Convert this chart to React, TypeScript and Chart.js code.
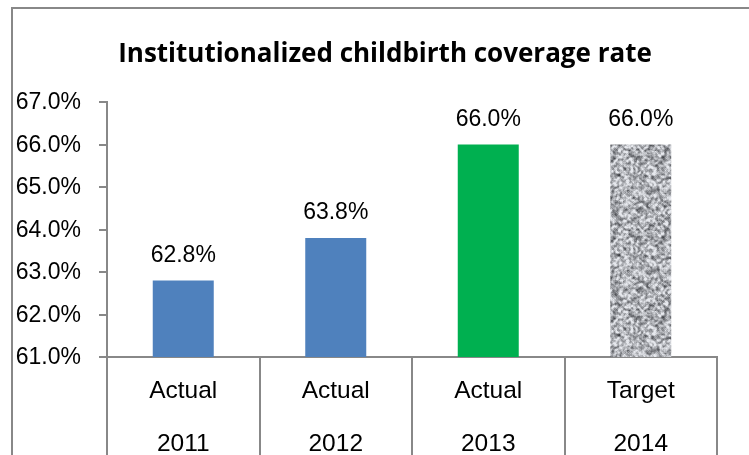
import React, { useEffect, useRef } from "react";
import { Chart, registerables } from "chart.js";

Chart.register(...registerables);

const TITLE = "Institutionalized childbirth coverage rate";
const kinds = ["Actual", "Actual", "Actual", "Target"];
const years = ["2011", "2012", "2013", "2014"];
const values = [62.8, 63.8, 66.0, 66.0];
const yMin = 61;
const yMax = 67;
const yStep = 1;

const BLUE = "#4F81BD";
const GREEN = "#00B050";
const AXIS = "#888888";
const LABEL_FONT = '"Liberation Sans", Arial, sans-serif';

function makeGranite(): CanvasPattern | string {
  const N = 80;
  const c = document.createElement("canvas");
  c.width = N;
  c.height = N;
  const g = c.getContext("2d");
  if (!g) return "#aeb0b3";
  let s = 98765;
  const rnd = () => {
    s = (s * 1103515245 + 12345) % 2147483648;
    return s / 2147483648;
  };
  const raw: number[] = [];
  for (let i = 0; i < N * N; i++) raw.push(rnd());
  const img = g.createImageData(N, N);
  for (let y = 0; y < N; y++) {
    for (let x = 0; x < N; x++) {
      let sum = 0;
      let w = 0;
      for (let dy = -1; dy <= 1; dy++) {
        for (let dx = -1; dx <= 1; dx++) {
          const k = dx === 0 && dy === 0 ? 2 : 1;
          sum += raw[((y + dy + N) % N) * N + ((x + dx + N) % N)] * k;
          w += k;
        }
      }
      const n = sum / w;
      let v = 174 + (n - 0.5) * 360;
      v = Math.max(65, Math.min(230, v));
      const idx = (y * N + x) * 4;
      img.data[idx] = v;
      img.data[idx + 1] = v + 2;
      img.data[idx + 2] = Math.min(255, v + 7);
      img.data[idx + 3] = 255;
    }
  }
  g.putImageData(img, 0, 0);
  const p = g.createPattern(c, "repeat");
  return p || "#aeb0b3";
}

const valueLabels = {
  id: "valueLabels",
  afterDatasetsDraw(chart: any) {
    const ctx = chart.ctx;
    const meta = chart.getDatasetMeta(0);
    const data = chart.data.datasets[0].data as number[];
    ctx.save();
    ctx.font = `23px ${LABEL_FONT}`;
    ctx.fillStyle = "#000";
    ctx.textAlign = "center";
    ctx.textBaseline = "alphabetic";
    meta.data.forEach((el: any, i: number) => {
      ctx.fillText(data[i].toFixed(1) + "%", el.x, el.y - 19);
    });
    ctx.restore();
  },
};

export default function App() {
  const ref = useRef<HTMLCanvasElement | null>(null);

  useEffect(() => {
    if (!ref.current) return;
    const granite = makeGranite();
    const chart = new Chart(ref.current, {
      type: "bar",
      data: {
        labels: kinds.map((k, i) => [k, years[i]]),
        datasets: [
          {
            data: values,
            backgroundColor: [BLUE, BLUE, GREEN, granite as any],
            borderWidth: 0,
            barPercentage: 0.4,
            categoryPercentage: 1,
          },
        ],
      },
      options: {
        responsive: false,
        animation: false,
        devicePixelRatio: 1,
        layout: { padding: 0 },
        plugins: {
          legend: { display: false },
          tooltip: { enabled: false },
          title: {
            display: true,
            text: TITLE,
            color: "#000",
            font: { family: '"Open Sans", sans-serif', size: 26, weight: "bold", lineHeight: 1.2 },
            padding: { top: 29.5, bottom: 32.3 },
          },
        },
        scales: {
          x: {
            type: "category",
            offset: true,
            grid: {
              display: true,
              offset: true,
              drawOnChartArea: false,
              drawTicks: true,
              tickLength: 122,
              color: AXIS,
              lineWidth: 2,
            },
            border: { display: true, color: AXIS, width: 2 },
            ticks: {
              color: "#000",
              font: { family: LABEL_FONT, size: 24.5, lineHeight: 53.4 / 24.5 },
              padding: -114.4,
              maxRotation: 0,
              autoSkip: false,
            },
            afterFit: (s: any) => {
              s.height = 122;
            },
          },
          y: {
            position: "left",
            min: yMin,
            max: yMax,
            grid: {
              display: true,
              drawOnChartArea: false,
              drawTicks: true,
              tickLength: 8,
              color: AXIS,
              lineWidth: 2,
            },
            border: { display: true, color: AXIS, width: 2 },
            ticks: {
              stepSize: yStep,
              color: "#000",
              font: { family: LABEL_FONT, size: 23 },
              padding: 18,
              labelOffset: 1,
              callback: (v: any) => Number(v).toFixed(1) + "%",
            },
            afterFit: (s: any) => {
              s.width = 94;
            },
          },
          yRight: {
            position: "right",
            display: true,
            grid: { display: false },
            border: { display: false },
            ticks: { display: false },
            afterFit: (s: any) => {
              s.width = 40;
            },
          },
        },
      },
      plugins: [valueLabels],
    });
    return () => chart.destroy();
  }, []);

  return (
    <div
      style={{
        position: "fixed",
        left: 0,
        top: 0,
        width: 749,
        height: 455,
        overflow: "hidden",
        background: "#fff",
      }}
    >
      <div
        style={{
          position: "absolute",
          left: 11,
          top: 7,
          width: 746,
          height: 480,
          border: `2px solid ${AXIS}`,
          background: "#fff",
        }}
      >
        <canvas ref={ref} width={744} height={470} style={{ display: "block" }} />
      </div>
    </div>
  );
}
